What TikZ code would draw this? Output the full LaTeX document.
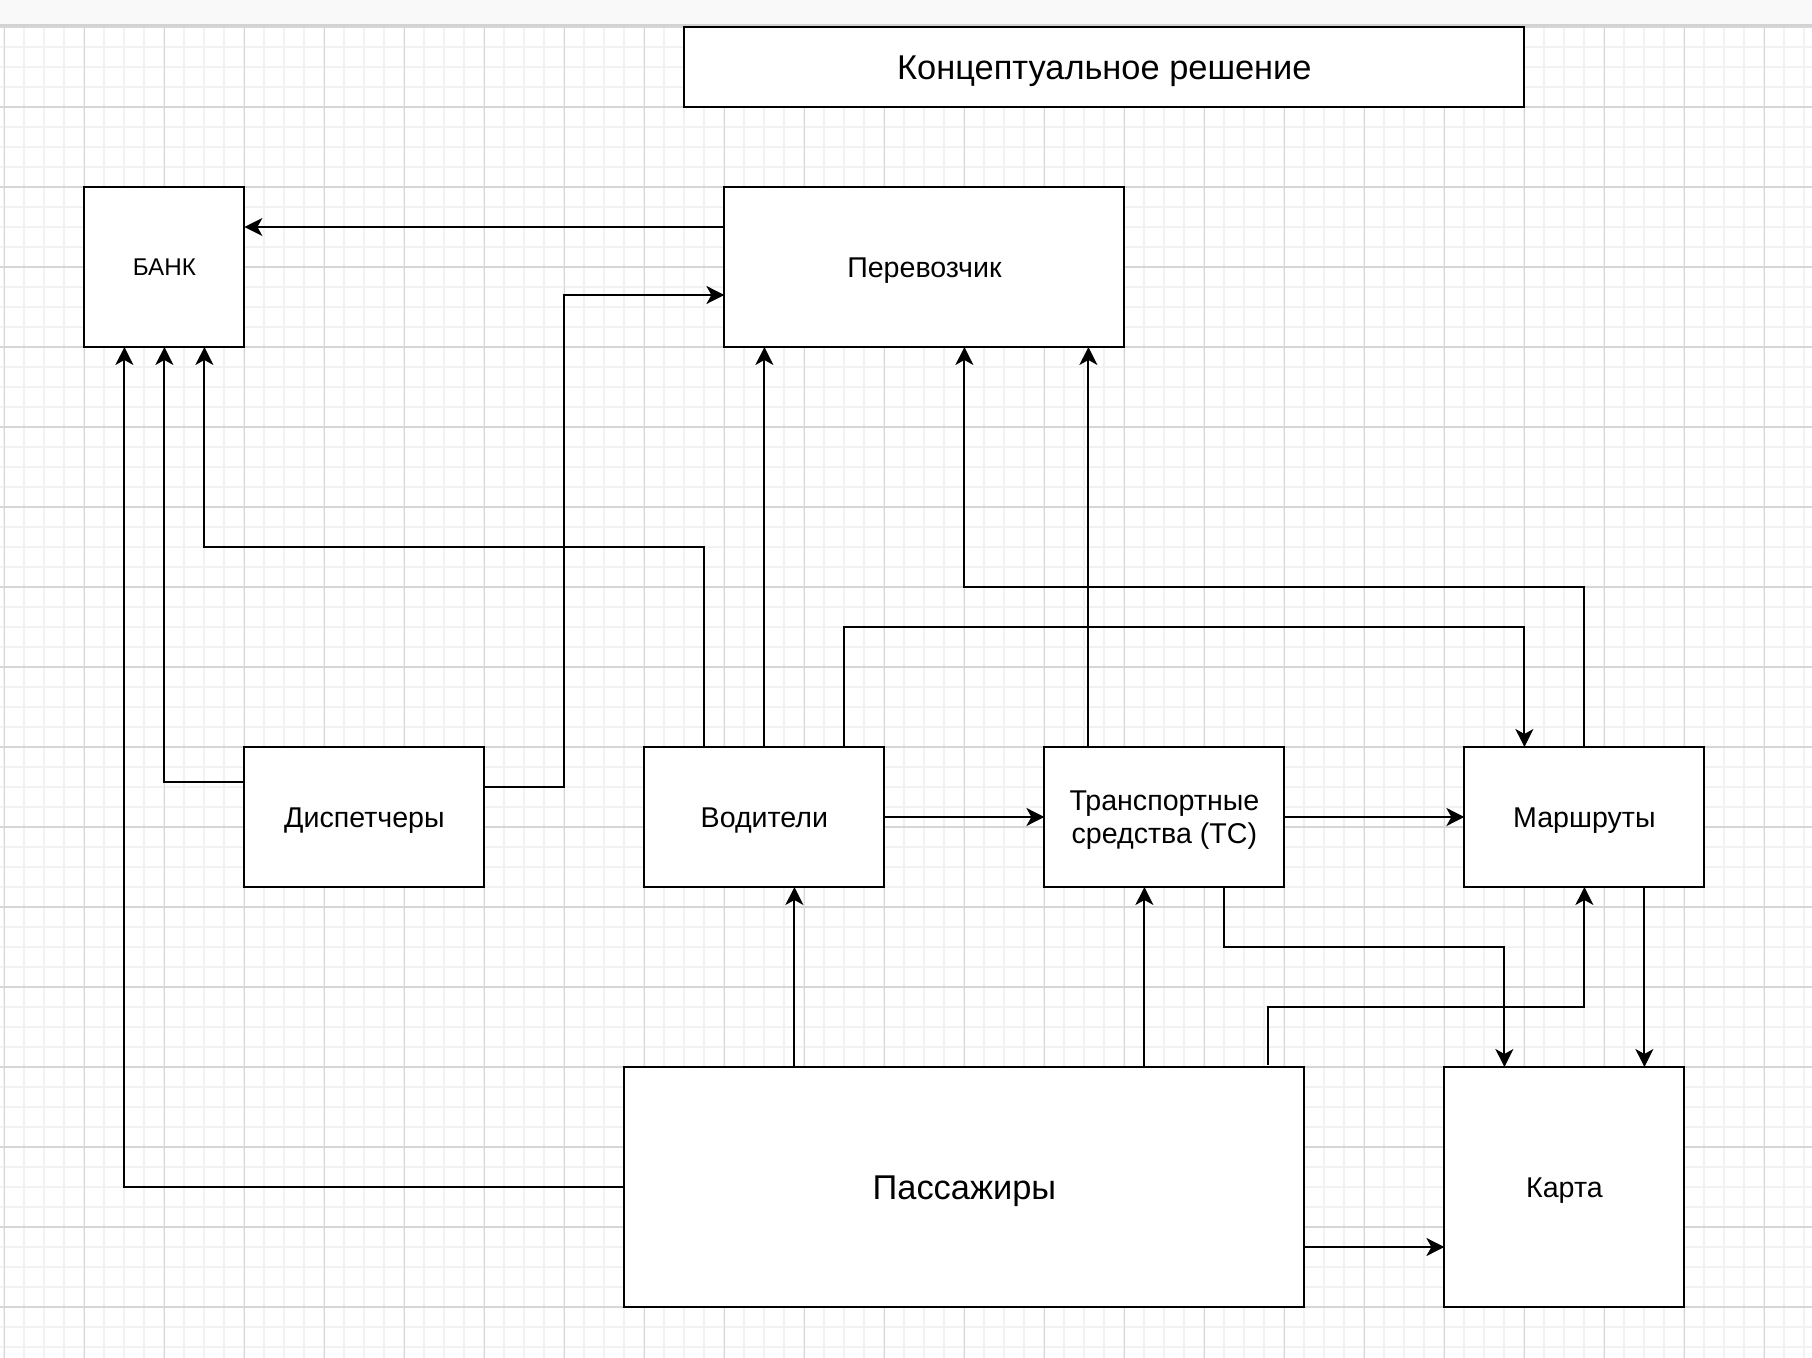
\documentclass[tikz,border=0pt]{standalone}
\usepackage{fontspec}
\setmainfont{Liberation Sans}
\usetikzlibrary{arrows.meta}

\definecolor{gridminor}{RGB}{242,242,242}
\definecolor{gridmajor}{RGB}{214,214,214}
\definecolor{topbar}{RGB}{249,249,249}

\begin{document}
\begin{tikzpicture}[x=10pt, y=-10pt,
    box/.style={draw, fill=white, line width=1pt, inner sep=0pt, outer sep=0pt,
      font=\fontsize{14.3}{16.8}\selectfont},
    oneline/.style={text height=11pt, text depth=0.76pt},
    bigline/.style={font=\fontsize{17.2}{20}\selectfont, text height=13pt, text depth=0.7pt},
    arr/.style={-{Stealth[length=9pt, width=9pt, inset=2.5pt]}, line width=1pt},
    minor/.style={gridminor, line width=1pt},
    major/.style={gridmajor, line width=0.6pt}]

    % Page and grid
    \useasboundingbox (-0.22,-0.35) rectangle (90.38,67.55);
    \fill[white] (-0.22,-0.35) rectangle (90.38,67.55);
    \foreach \x in {0,...,90}
        \draw[minor] (\x,0.9) -- (\x,67.55);
    \foreach \y in {1,...,67}
        \draw[minor] (-0.22,\y) -- (90.38,\y);
    \foreach \x in {0,4,...,88}
        \draw[major] (\x,0.9) -- (\x,67.55);
    \foreach \y in {1,5,...,65}
        \draw[major] (-0.22,\y) -- (90.38,\y);
    \fill[topbar] (-0.22,-0.35) rectangle (90.38,0.9);
    \draw[gray!35, line width=0.8pt] (-0.22,0.9) -- (90.38,0.9);

    % Boxes
    \node[box, bigline, minimum width=420pt, minimum height=40pt] (title) at (55,3) {Концептуальное решение};
    \node[box, minimum width=80pt, minimum height=80pt, font=\fontsize{12.1}{14}\selectfont,
        text height=9pt, text depth=0.34pt] (bank) at (8,13) {БАНК};
    \node[box, oneline, minimum width=200pt, minimum height=80pt] (per) at (46,13) {Перевозчик};
    \node[box, oneline, minimum width=120pt, minimum height=70pt] (disp) at (18,40.5) {Диспетчеры};
    \node[box, oneline, minimum width=120pt, minimum height=70pt] (vod) at (38,40.5) {Водители};
    \node[box, minimum width=120pt, minimum height=70pt] (ts) at (58,40.5)
        {\raisebox{-1.7pt}[\height][\depth]{\begin{tabular}{@{}c@{}}Транспортные\\средства (ТС)\end{tabular}}};
    \node[box, oneline, minimum width=120pt, minimum height=70pt] (mar) at (79,40.5) {Маршруты};
    \node[box, bigline, minimum width=340pt, minimum height=120pt] (pas) at (48,59) {Пассажиры};
    \node[box, oneline, minimum width=120pt, minimum height=120pt] (map) at (78,59) {Карта};

    % Arrows to the bank
    \draw[arr] (per.west |- 0,11) -- (bank.east |- 0,11);
    \draw[arr] (disp.west |- 0,38.75) -| (bank.south);
    \draw[arr] (vod.north -| 35,0) |- (10,27) -- (bank.south -| 10,0);
    \draw[arr] (pas.west) -| (bank.south -| 6,0);

    % Arrows to the carrier
    \draw[arr] (disp.east |- 0,39) -| (28,14.4) -- (per.west |- 0,14.4);
    \draw[arr] (vod.north) -- (per.south -| vod.north);
    \draw[arr] (ts.north -| 54.2,0) -- (per.south -| 54.2,0);
    \draw[arr] (mar.north) |- (48,29) -- (per.south -| 48,0);

    % Middle row
    \draw[arr] (vod.north -| 42,0) |- (76,31) -- (mar.north -| 76,0);
    \draw[arr] (vod.east) -- (ts.west);
    \draw[arr] (ts.east) -- (mar.west);

    % From the passengers and to the map
    \draw[arr] (pas.north -| 39.5,0) -- (vod.south -| 39.5,0);
    \draw[arr] (pas.north -| 57,0) -- (ts.south -| 57,0);
    \draw[arr] ([yshift=1pt]pas.north -| 63.2,0) |- (79,50) -- (mar.south);
    \draw[arr] (ts.south -| 61,0) |- (75,47) -- (map.north -| 75,0);
    \draw[arr] (mar.south -| 82,0) -- (map.north -| 82,0);
    \draw[arr] (pas.east |- 0,62) -- (map.west |- 0,62);

\end{tikzpicture}
\end{document}
